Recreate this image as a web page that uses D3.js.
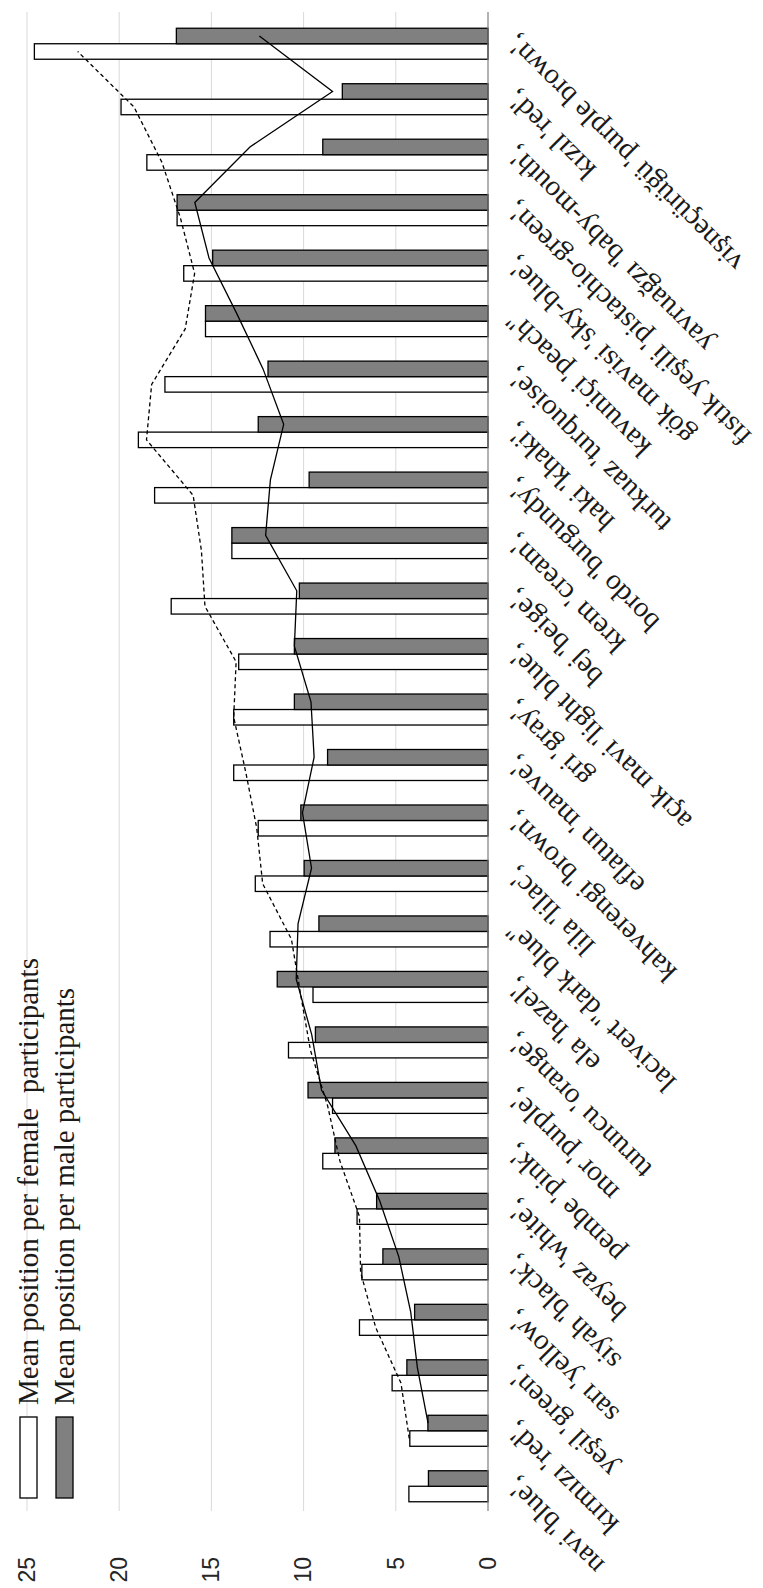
<!DOCTYPE html>
<html><head><meta charset="utf-8">
<script src="https://cdn.jsdelivr.net/npm/d3@7"></script>
<style>html,body{margin:0;padding:0;background:#fff}</style>
</head><body>
<svg id="c" width="763" height="1588"></svg>
<script>
const categories = ["navi 'blue',","kırmızı 'red',","yeşil 'green',","sarı 'yellow',","siyah 'black',","beyaz 'white',","pembe 'pink',","mor 'purple',","turuncu 'orange',","ela 'hazel',","lacivert \"dark blue\"","lila 'lilac',","kahverengi 'brown',","eflatun 'mauve',","gri 'gray',","açık mavi 'light blue',","bej 'beige',","krem 'cream',","bordo 'burgundy',","haki 'khaki',","turkuaz 'turquoise',","kavuniçi 'peach\"","gök mavisi 'sky-blue',","fıstık yeşili 'pistachio-green',","yavruağzı 'baby-mouth',","kızıl 'red',","vişneçürüğü 'purple brown',"];
const femaleMeans = [4.29,4.24,5.20,6.97,6.84,7.10,8.96,8.43,10.82,9.49,11.82,12.62,12.46,13.79,13.79,13.52,17.18,13.89,18.08,18.96,17.52,15.32,16.50,16.86,18.50,19.90,24.60];
const maleMeans = [3.23,3.26,4.40,3.98,5.70,6.04,8.30,9.76,9.36,11.43,9.17,9.97,10.15,8.70,10.50,10.50,10.23,13.89,9.70,12.46,11.93,15.32,14.93,16.86,8.96,7.90,16.90];
const femaleTrend = [null,4.27,4.72,6.09,6.91,6.97,8.03,8.70,9.63,10.16,10.66,12.22,12.54,13.13,13.79,13.66,15.35,15.54,15.99,18.52,18.24,16.42,15.91,16.68,17.68,19.20,22.25];
const maleTrend = [null,3.25,3.83,4.19,4.84,5.87,7.17,9.03,9.56,10.40,10.30,9.57,10.06,9.43,9.60,10.50,10.37,12.06,11.80,11.08,12.20,13.63,15.13,15.90,12.91,8.43,12.40];
const valueTicks = [0,5,10,15,20,25];
const seriesNames = ["Mean position per female  participants","Mean position per male participants"];

const W = 1588;
const svg = d3.select("#c");
const g = svg.append("g").attr("transform", `translate(0,${W}) rotate(-90)`);
const x = d3.scaleBand().domain(categories).range([74, 1572]);
const y = d3.scaleLinear().domain([0, 25]).range([488, 27]);
const bw = 15.5;
const serif = "'Liberation Serif','DejaVu Serif',serif";

// gridlines
g.selectAll("line.grid").data(valueTicks.filter(v => v > 0)).join("line")
  .attr("class","grid").attr("x1", 77).attr("x2", 1576)
  .attr("y1", d => y(d)).attr("y2", d => y(d))
  .attr("stroke", "#d9d9d9").attr("stroke-width", 1);

// value axis labels
const ya = g.append("g").attr("transform", "translate(31,0)")
  .call(d3.axisLeft(y).tickValues(valueTicks).tickSize(0).tickPadding(0));
ya.select(".domain").remove();
ya.selectAll("text").attr("font-family", "'Liberation Sans',Arial,sans-serif")
  .attr("font-size", 23).attr("fill", "#262626");

// bars
const bars = g.append("g");
bars.selectAll("rect.f").data(categories).join("rect").attr("class","f")
  .attr("x", (c) => x(c) + x.bandwidth()/2 - bw)
  .attr("width", bw)
  .attr("y", (c,i) => y(femaleMeans[i]))
  .attr("height", (c,i) => y(0) - y(femaleMeans[i]))
  .attr("fill", "#fff").attr("stroke", "#000").attr("stroke-width", 1.3);
bars.selectAll("rect.m").data(categories).join("rect").attr("class","m")
  .attr("x", (c) => x(c) + x.bandwidth()/2)
  .attr("width", bw)
  .attr("y", (c,i) => y(maleMeans[i]))
  .attr("height", (c,i) => y(0) - y(maleMeans[i]))
  .attr("fill", "#808080").attr("stroke", "#000").attr("stroke-width", 1.3);

// category axis line
g.append("line").attr("x1", 77).attr("x2", 1576).attr("y1", y(0)).attr("y2", y(0))
  .attr("stroke", "#7f7f7f").attr("stroke-width", 1.2);

// category labels
const xa = g.append("g").attr("transform", `translate(0,${y(0)})`)
  .call(d3.axisBottom(x).tickSize(0).tickPadding(0));
xa.select(".domain").remove();
xa.selectAll("text").attr("y", 0).attr("dy", "0.35em")
  .attr("text-anchor", "end")
  .attr("transform", "translate(4,22) rotate(-45)")
  .attr("font-family", serif).attr("font-size", 29).attr("fill", "#1a1a1a");

// moving average lines
const fLine = d3.line().defined(d => d[1] != null)
  .x(d => x(d[0]) + x.bandwidth()/2 - bw/2).y(d => y(d[1]));
const mLine = d3.line().defined(d => d[1] != null)
  .x(d => x(d[0]) + x.bandwidth()/2 + bw/2).y(d => y(d[1]));
g.append("path").datum(categories.map((c,i) => [c, femaleTrend[i]]))
  .attr("d", fLine).attr("fill", "none").attr("stroke", "#000")
  .attr("stroke-width", 1.3).attr("stroke-dasharray", "4,3");
g.append("path").datum(categories.map((c,i) => [c, maleTrend[i]]))
  .attr("d", mLine).attr("fill", "none").attr("stroke", "#000")
  .attr("stroke-width", 1.3);

// legend
const lg = g.append("g");
const legendFills = ["#fff", "#808080"];
const legendY = [20, 56];
seriesNames.forEach((name, i) => {
  lg.append("rect").attr("x", 90).attr("y", legendY[i]).attr("width", 81).attr("height", 17)
    .attr("fill", legendFills[i]).attr("stroke", "#000").attr("stroke-width", 1.3);
  lg.append("text").attr("x", 183).attr("y", legendY[i] + 17.5)
    .attr("font-family", serif).attr("font-size", 29).attr("fill", "#1a1a1a")
    .attr("xml:space", "preserve").style("white-space", "pre").text(name);
});
</script>
</body></html>
